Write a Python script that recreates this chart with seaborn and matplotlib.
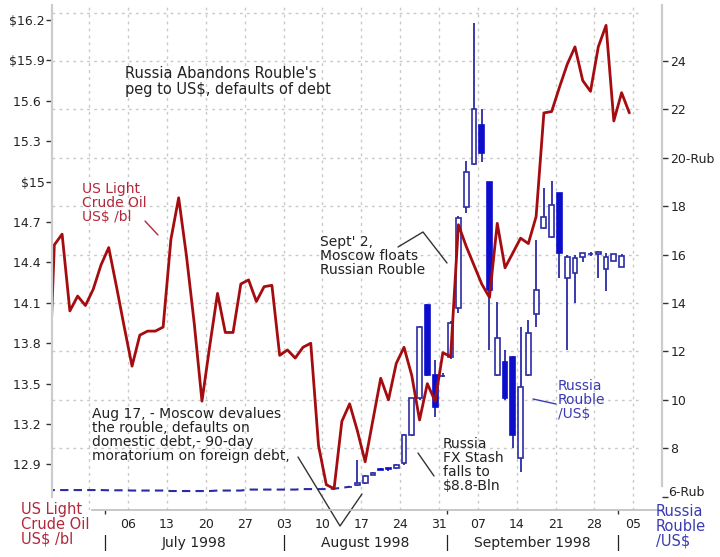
import pandas as pd
import seaborn as sns
import matplotlib.pyplot as plt
from matplotlib.lines import Line2D

# trading days, index 0 = Mon 22 Jun 1998
days = pd.bdate_range("1998-06-22", "1998-10-09")

# US light crude, $/bl (one point per trading day)
oil_day = list(range(-1, 75))
oil_price = [13.00, 14.53, 14.61, 14.04, 14.15, 14.08, 14.20, 14.38, 14.51, 14.22,
             13.92, 13.63, 13.86, 13.89, 13.89, 13.92, 14.57, 14.88, 14.45, 13.95,
             13.37, 13.78, 14.17, 13.88, 13.88, 14.24, 14.27, 14.11, 14.22, 14.23,
             13.71, 13.75, 13.69, 13.77, 13.80, 13.04, 12.75, 12.72, 13.22, 13.35,
             13.15, 12.92, 13.23, 13.54, 13.38, 13.65, 13.77, 13.56, 13.23, 13.50,
             13.37, 13.73, 13.70, 14.68, 14.52, 14.38, 14.24, 14.14, 14.69, 14.36,
             14.47, 14.58, 14.54, 14.74, 15.51, 15.52, 15.70, 15.87, 16.00, 15.75,
             15.67, 16.00, 16.16, 15.45, 15.66, 15.51]

# rouble/US$ while still pegged
peg_day = list(range(-1, 39))
peg_rate = [6.27] * 8 + [6.26] * 3 + [6.25] * 5 + [6.23] * 6 + [6.25] * 4 + \
           [6.29] * 7 + [6.31] * 4 + [6.33, 6.36, 6.41]

# rouble/US$ daily candles after the float
candle_day = list(range(38, 74))
rub_open = [6.41, 6.48, 6.55, 6.90, 7.16, 7.18, 7.17, 7.38, 8.55, 10.06,
            13.90, 11.03, 11.00, 11.78, 13.78, 17.98, 19.74, 21.36, 19.01, 11.03,
            11.57, 11.78, 7.58, 11.03, 13.55, 17.09, 16.74, 18.53, 15.02, 15.22,
            15.91, 16.02, 16.02, 15.39, 15.75, 15.50]
rub_high = [6.43, 7.51, 6.88, 7.00, 7.18, 7.20, 7.33, 8.58, 10.08, 13.05,
            13.95, 11.65, 11.10, 13.25, 17.60, 19.87, 25.56, 22.00, 19.01, 14.05,
            12.06, 11.80, 13.02, 13.30, 16.60, 18.74, 19.05, 18.55, 15.98, 15.98,
            16.07, 16.10, 16.14, 16.05, 16.03, 16.01]
rub_low = [6.39, 6.45, 6.50, 6.88, 7.08, 7.06, 7.15, 7.30, 8.50, 10.00,
           11.00, 9.30, 10.95, 11.70, 13.60, 17.70, 19.70, 19.84, 12.06, 11.00,
           10.00, 8.00, 7.03, 11.00, 13.02, 17.05, 16.70, 15.02, 12.06, 13.99,
           15.71, 15.95, 15.02, 14.51, 15.73, 15.48]
rub_close = [6.41, 6.58, 6.85, 6.98, 7.10, 7.16, 7.31, 8.55, 10.06, 13.02,
             11.03, 9.71, 11.00, 13.17, 17.50, 19.43, 22.00, 20.21, 14.54, 12.55,
             10.06, 8.55, 10.54, 12.75, 14.54, 17.54, 18.05, 16.05, 15.91, 15.85,
             16.05, 16.02, 16.12, 15.91, 16.01, 15.94]

oil_ticks = [16.2, 15.9, 15.6, 15.3, 15.0, 14.7, 14.4, 14.1, 13.8, 13.5, 13.2, 12.9]
oil_tick_labels = ["$16.2", "$15.9", "15.6 ", "15.3 ", "$15", "14.7 ", "14.4 ",
                   "14.1 ", "13.8 ", "13.5 ", "13.2 ", "12.9 "]
rub_ticks = [24, 22, 20, 18, 16, 14, 12, 10, 8, 6]
rub_tick_labels = ["24", "22", "20-Rub", "18", "16", "14", "12", "10", "8", ""]

week_dates = ["1998-06-29", "1998-07-06", "1998-07-13", "1998-07-20", "1998-07-27",
              "1998-08-03", "1998-08-10", "1998-08-17", "1998-08-24", "1998-08-31",
              "1998-09-07", "1998-09-14", "1998-09-21", "1998-09-28", "1998-10-05"]
month_starts = ["1998-07-01", "1998-08-03", "1998-09-01", "1998-10-01"]
month_names = ["July 1998", "August 1998", "September 1998"]

OIL = "#a50c10"
OIL_TXT = "#b3283a"
BLUE = "#2b2ba6"
BLUE_FILL = "#0d0dcc"
BLUE_TXT = "#3b3bb3"
GRID = "#c9c9c9"

sns.set_theme(style="white")
plt.rcParams['font.family'] = ['DejaVu Sans']

W, H = 720, 557
fig = plt.figure(figsize=(W / 100, H / 100), dpi=100)
ax_oil = fig.add_axes([52 / W, 1 - 510 / H, 610 / W, 505 / H])
ax_rub = ax_oil.twinx()
ax_oil.set_zorder(2)
ax_rub.set_zorder(1)
ax_oil.patch.set_visible(False)

x0, x1 = -0.3, 78.2
ax_oil.set_xlim(x0, x1)
ax_oil.set_ylim(12.562, 16.311)
ax_rub.set_ylim(5.446, 26.314)

def pos(d):
    return days.get_loc(pd.Timestamp(d)) - 0.5

week_pos = [pos(d) for d in week_dates]
sep_pos = [pos(d) for d in month_starts]

# grid (on the rouble axes, under everything)
ax_rub.hlines(list(range(8, 27, 2)), x0, 75.6, colors=GRID, linestyles=(0, (2, 3)), lw=1, zorder=0)
ax_rub.vlines(week_pos, 5.446, 26.314, colors=GRID, linestyles=(0, (2, 3)), lw=1, zorder=0)

# pegged rouble, dashed
sns.lineplot(x=peg_day, y=peg_rate, ax=ax_rub, color=BLUE, lw=1.5, linestyle=(0, (4, 2.5)),
             estimator=None, sort=False, zorder=3)

# candles
w = 0.62
ax_rub.vlines(candle_day, rub_low, rub_high, colors=BLUE, lw=1.3, zorder=3)
bottoms = [min(o, c) for o, c in zip(rub_open, rub_close)]
heights = [abs(c - o) for o, c in zip(rub_open, rub_close)]
faces = [BLUE_FILL if c < o else "white" for o, c in zip(rub_open, rub_close)]
edges = [BLUE_FILL if c < o else BLUE for o, c in zip(rub_open, rub_close)]
ax_rub.bar(candle_day, heights, bottom=bottoms, width=w, color=faces,
           edgecolor=edges, linewidth=1.2, zorder=4)

# crude oil
sns.lineplot(x=oil_day, y=oil_price, ax=ax_oil, color=OIL, lw=2.0,
             estimator=None, sort=False)
ax_oil.set_xlabel("")
ax_oil.set_ylabel("")
ax_rub.set_ylabel("")

# axes cosmetics
for a in (ax_oil, ax_rub):
    a.spines['top'].set_visible(False)
    a.grid(False)
ax_rub.spines['bottom'].set_visible(False)
ax_rub.spines['left'].set_visible(False)
ax_oil.spines['right'].set_visible(False)
ax_oil.spines['left'].set_color("#cccccc")
ax_oil.spines['left'].set_linewidth(1.6)
ax_oil.spines['left'].set_bounds(12.66, 16.311)
ax_rub.spines['right'].set_color("#cccccc")
ax_rub.spines['right'].set_linewidth(1.6)
ax_rub.spines['right'].set_bounds(6.45, 26.314)
ax_oil.spines['bottom'].set_color("#bdbdbd")
ax_oil.spines['bottom'].set_linewidth(1.2)
ax_oil.spines['bottom'].set_bounds(4.85, x1)

ax_oil.set_yticks(oil_ticks)
ax_oil.set_yticklabels(oil_tick_labels)
ax_oil.tick_params(axis='y', which='both', left=True, length=4, width=1, color="#333333",
                   pad=1, labelsize=9, labelcolor="#222222", direction='out')
ax_rub.set_yticks(rub_ticks)
ax_rub.set_yticklabels(rub_tick_labels)
ax_rub.tick_params(axis='y', right=True, length=4, width=1, color="#333333",
                   pad=2, labelsize=9, labelcolor="#222222", direction='out')

ax_oil.set_xticks(week_pos[1:])
ax_oil.set_xticklabels([d[-2:] for d in week_dates[1:]])
ax_oil.set_xticks(sep_pos, minor=True)
ax_oil.tick_params(axis='x', which='major', bottom=True, length=0, pad=6,
                   labelsize=9, labelcolor="#222222")
ax_oil.tick_params(axis='x', which='minor', bottom=True, length=3, width=1, color="#333333")

xt = ax_oil.get_xaxis_transform()
for p in sep_pos:
    ax_oil.text(p, -0.066, "|", transform=xt, ha='center', va='center', fontsize=11,
                color="#222222", clip_on=False)
for i, name in enumerate(month_names):
    ax_oil.text((sep_pos[i] + sep_pos[i + 1]) / 2, -0.066, name, transform=xt,
                ha='center', va='center', fontsize=10, color="#222222", clip_on=False)

# annotations, placed in pixel coordinates of the 720x557 picture
def fx(x):
    return x / W

def fy(y):
    return 1 - y / H

def note(x, y, s, color="#222222", size=10, ls=1.0, va='top'):
    fig.text(fx(x), fy(y), s, ha='left', va=va, fontsize=size, color=color,
             linespacing=ls)

def pointer(xs, ys, color="#333333"):
    fig.add_artist(Line2D([fx(v) for v in xs], [fy(v) for v in ys],
                          transform=fig.transFigure, color=color, lw=1))

# bottom rouble tick label sits a little higher, clear of the legend text
note(668, 493, "6-Rub", size=9, va='center')

note(125, 66, "Russia Abandons Rouble's\npeg to US$, defaults of debt", size=10.5, ls=1.05)
note(82, 182, "US Light\nCrude Oil\nUS$ /bl", color=OIL_TXT)
pointer([145, 158], [221, 235], OIL_TXT)
note(320, 235, "Sept' 2,\nMoscow floats\nRussian Rouble")
pointer([398, 423, 447], [247, 232, 263])
note(92, 407, "Aug 17, - Moscow devalues\nthe rouble, defaults on\ndomestic debt,- 90-day\nmoratorium on foreign debt,")
pointer([298, 340, 362], [457, 526, 494])
note(443, 437, "Russia\nFX Stash\nfalls to\n$8.8-Bln")
pointer([418, 434], [453, 476])
note(558, 379, "Russia\nRouble\n/US$", color=BLUE_TXT)
pointer([533, 556], [399, 404], BLUE_TXT)
note(21, 502, "US Light\nCrude Oil\nUS$ /bl", color=OIL_TXT, size=10.5)
note(656, 504, "Russia\nRouble\n/US$", color=BLUE_TXT, size=10.5)

fig.savefig("out.png", dpi=100)
